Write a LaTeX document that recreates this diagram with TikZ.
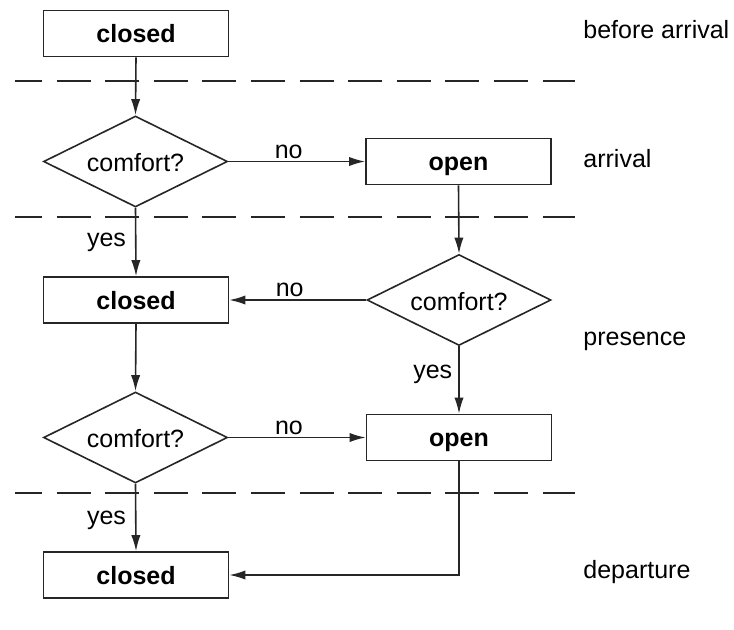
\documentclass[tikz,border=0pt]{standalone}
\usepackage{fontspec}
\setmainfont{Liberation Sans}
\usetikzlibrary{shapes.geometric,arrows.meta}
\begin{document}
\begin{tikzpicture}[x=0.5pt,y=-0.5pt,
  every node/.style={font=\fontsize{12.5pt}{15pt}\selectfont},
  box/.style={draw=black!85, line width=0.8pt, minimum width=92.5pt, minimum height=23pt, inner sep=0pt,
    text height=11pt, text depth=2pt, font=\fontsize{12.5pt}{15pt}\selectfont\bfseries},
  dia/.style={draw=black!85, diamond, aspect=2, inner sep=0pt, minimum width=92pt, minimum height=45.5pt,
    text height=11pt, text depth=1pt, line width=0.8pt},
  arr/.style={draw=black!85, line width=0.8pt, -{Latex[length=8pt,width=4.6pt]}},
  sep/.style={draw=black!85, line width=0.8pt, dash pattern=on 17pt off 7.3pt, dash phase=3.5pt},
  lbl/.style={inner sep=0pt},
  phase/.style={anchor=base west, inner sep=0pt}]
\useasboundingbox (0,0) rectangle (734,629);

% separators
\draw[sep] (15,81) -- (575,81);
\draw[sep] (15,217) -- (575,217);
\draw[sep] (15,493) -- (575,493);

% phase labels
\node[phase] (p0) at (583,38) {before arrival};
\node[phase] (p1) at (583,167) {arrival};
\node[phase] (p2) at (583,345) {presence};
\node[phase] (p3) at (583,578) {departure};

% nodes
\node[box] (c1) at (136,33.5) {closed};
\node[dia] (d1) at (135.5,161.5) {comfort?};
\node[box] (o1) at (458.5,161.5) {open};
\node[box] (c2) at (136,300) {closed};
\node[dia] (d2) at (459,300) {comfort?};
\node[dia] (d3) at (135.5,437.5) {comfort?};
\node[box] (o2) at (459,437.5) {open};
\node[box] (c3) at (136,575) {closed};

% connectors
\draw[arr] (c1.south) -- (d1.north);
\draw[arr] (d1.east) -- node[lbl, above=1pt, xshift=-4pt] (n1) {no} (o1.west);
\draw[arr] (d1.south) -- node[lbl, left=4.5pt] (y1) {yes} (c2.north);
\draw[arr] (o1.south) -- (d2.north);
\draw[arr] (d2.west) -- node[lbl, above=1pt, xshift=-4pt] (n2) {no} (c2.east);
\draw[arr] (c2.south) -- (d3.north);
\draw[arr] (d2.south) -- node[lbl, left=3pt, yshift=3pt] (y2) {yes} (o2.north);
\draw[arr] (d3.east) -- node[lbl, above=1pt, xshift=-4pt] (n3) {no} (o2.west);
\draw[arr] (d3.south) -- node[lbl, left=4.5pt, yshift=-1.5pt] (y3) {yes} (c3.north);
\draw[arr] (o2.south) |- (c3.east);
\end{tikzpicture}
\end{document}
